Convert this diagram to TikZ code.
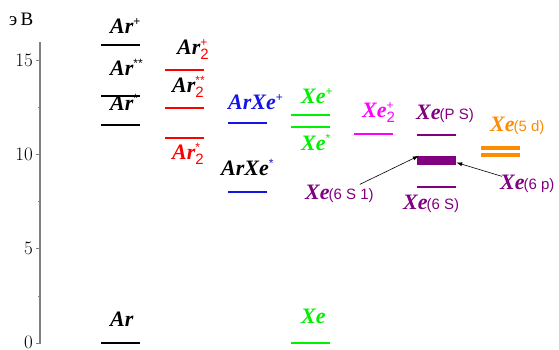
\documentclass[tikz,border=0pt]{standalone}
\usepackage{fontspec}
\usetikzlibrary{arrows.meta}
\newfontfamily\tnrbi{Liberation Serif}[UprightFont={* Bold Italic}]
\newfontfamily\arial{Liberation Sans}
\newfontfamily\cyr{Liberation Serif}
\definecolor{cred}{RGB}{255,0,0}
\definecolor{cblue}{RGB}{20,20,230}
\definecolor{cgreen}{RGB}{0,240,0}
\definecolor{cmag}{RGB}{255,0,255}
\definecolor{cpur}{RGB}{128,0,128}
\definecolor{corg}{RGB}{255,140,0}
\definecolor{caxis}{RGB}{128,128,128}
\newcommand\smp[1]{\mbox{\arial\mdseries\upshape\fontsize{12}{12}\selectfont #1}}
\newcommand\sms[1]{\mbox{\arial\mdseries\upshape\fontsize{15}{15}\selectfont #1}}
\newcommand\sbsp[2]{$_{\smash{\sms{#1}}}^{\smash{\smp{#2}}}$}
\newcommand\spo[1]{$^{\smash{\smp{#1}}}$}
\begin{document}
\begin{tikzpicture}[x=1pt,y=-1pt,
  lvl/.style={line width=1.8pt},
  lbl/.style={inner sep=0pt,font=\tnrbi\fontsize{22}{22}\selectfont},
  ax/.style={inner sep=0pt,font=\fontsize{19}{19}\selectfont},
  arr/.style={-{Latex[length=6pt,width=4pt]},line width=0.6pt,black}]
\useasboundingbox (0,0) rectangle (559,349);
% axis
\draw[caxis,line width=1.2pt] (40,42) -- (40,344);
\foreach \y in {60,154,248,343} \draw[caxis,line width=1pt] (36,\y) -- (40,\y);
\foreach \y in {107,201,296} \draw[caxis,line width=1pt] (38,\y) -- (40,\y);
\node[ax,anchor=east] (t15) at (33,60) {15};
\node[ax,anchor=east] (t10) at (33,154) {10};
\node[ax,anchor=east] (t5) at (33,248) {5};
\node[ax,anchor=base east] (t0) at (33,348) {0};
\node[inner sep=0pt,anchor=base west,font=\cyr\fontsize{19}{19}\selectfont] (ev) at (9,25) {э\,В};
% Ar
\draw[lvl] (101,45) -- (140,45);
\draw[lvl] (101,96) -- (140,96);
\draw[lvl] (101,125) -- (140,125);
\draw[lvl] (101,343) -- (140,343);
\node[lbl,anchor=base west] (ar1) at (110,33) {Ar\spo{+}};
\node[lbl,anchor=base west] (ar2) at (110,75) {Ar\spo{**}};
\node[lbl,anchor=base west] (ar3) at (110,110) {Ar\spo{*}};
\node[lbl,anchor=base west] (ar0) at (110,326) {Ar};
% Ar2
\draw[lvl,cred] (165,70) -- (204,70);
\draw[lvl,cred] (165,108) -- (204,108);
\draw[lvl,cred] (165,138) -- (204,138);
\node[lbl,anchor=base west] (a2p) at (177,54) {Ar\textcolor{cred}{\sbsp{2}{+}}};
\node[lbl,anchor=base west] (a2ss) at (172,92) {Ar\textcolor{cred}{\sbsp{2}{**}}};
\node[lbl,anchor=base west,cred] (a2s) at (172,159) {Ar\sbsp{2}{*}};
% ArXe
\draw[lvl,cblue] (228,123) -- (267,123);
\draw[lvl,cblue] (228,192) -- (267,192);
\node[lbl,anchor=base west,cblue] (axp) at (228,109) {ArXe\spo{+}};
\node[lbl,anchor=base west] (axs) at (221,175) {ArXe\textcolor{cblue}{\spo{*}}};
% Xe
\draw[lvl,cgreen] (291,115) -- (330,115);
\draw[lvl,cgreen] (291,127) -- (330,127);
\draw[lvl,cgreen] (291,343) -- (330,343);
\node[lbl,anchor=base west,cgreen] (xep) at (301,103) {Xe\spo{+}};
\node[lbl,anchor=base west,cgreen] (xes) at (301,150) {Xe\spo{*}};
\node[lbl,anchor=base west,cgreen] (xe0) at (301,323) {Xe};
% Xe2+
\draw[lvl,cmag] (354,134) -- (393,134);
\node[lbl,anchor=base west,cmag] (x2p) at (362,117) {Xe\sbsp{2}{+}};
% Xe purple
\draw[lvl,cpur] (417,135) -- (456,135);
\node[fill=cpur,inner sep=0pt,minimum width=39pt,minimum height=9pt] (bar) at (436.5,160.5) {};
\draw[lvl,cpur] (417,187) -- (456,187);
\node[lbl,anchor=base west,cpur] (xps) at (416,119) {Xe\kern-1pt\sms{(P S)}};
\node[lbl,anchor=base west,cpur] (x6s) at (403,209) {Xe\kern-1pt\sms{(6 S)}};
\node[lbl,anchor=base west,cpur] (x6s1) at (305,199) {Xe\kern-1pt\sms{(6 S 1)}};
\node[lbl,anchor=base west,cpur] (x6p) at (500,189) {Xe\kern-1pt\sms{(6 p)}};
% Xe 5d
\draw[corg,line width=3.5pt] (481,148) -- (520,148);
\draw[corg,line width=3.5pt] (481,155) -- (520,155);
\node[lbl,anchor=base west,corg] (x5d) at (490,131) {Xe\kern-1pt\sms{(5 d)}};
% arrows
\coordinate (s1) at ([shift={(-14,-9)}]x6s1.east);
\coordinate (s2) at ([shift={(2,-7)}]x6p.west);
\draw[arr] (s1) -- ([shift={(2,0)}]bar.north west);
\draw[arr] (s2) -- ([shift={(0,2)}]bar.east);
\end{tikzpicture}
\end{document}
